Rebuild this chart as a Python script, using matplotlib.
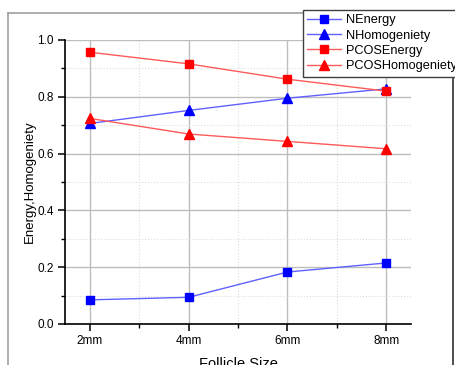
import matplotlib
matplotlib.use("Agg")
import matplotlib.pyplot as plt
from matplotlib.lines import Line2D
from matplotlib.ticker import MultipleLocator

plt.rcParams['font.family'] = ['Liberation Sans', 'DejaVu Sans']

sizes = [2, 4, 6, 8]
tick_labels = ['2mm', '4mm', '6mm', '8mm']
n_energy = [0.085, 0.094, 0.183, 0.215]
n_homog = [0.706, 0.752, 0.795, 0.828]
pcos_energy = [0.957, 0.916, 0.862, 0.820]
pcos_homog = [0.724, 0.669, 0.643, 0.617]

fig = plt.figure(figsize=(4.55, 3.65), dpi=100)
W, H = 455, 365

# outer frame
fig.add_artist(Line2D([8/W, 8/W], [0, 1-13/H], transform=fig.transFigure, color='#a0a0a0', lw=1.2))
fig.add_artist(Line2D([8/W, 453/W], [1-13/H, 1-13/H], transform=fig.transFigure, color='#a0a0a0', lw=1.2))
fig.add_artist(Line2D([453/W, 453/W], [0, 1-13/H], transform=fig.transFigure, color='#303030', lw=1.2))

ax = fig.add_axes([65/W, 1-324/H, (411-65)/W, (324-40)/H])
ax.set_xlim(1.5, 8.5)
ax.set_ylim(0, 1.0)

blue_line = '#6060ff'
red_line = '#ff5a5a'
ax.plot(sizes, n_energy, color=blue_line, lw=1, marker='s', ms=5.5, mfc='#0000ff', mec='#0000ff', label='NEnergy', zorder=5)
ax.plot(sizes, n_homog, color=blue_line, lw=1, marker='^', ms=6.5, mfc='#0000ff', mec='#0000ff', label='NHomogeniety', zorder=5)
ax.plot(sizes, pcos_energy, color=red_line, lw=1, marker='s', ms=5.5, mfc='#ff0000', mec='#ff0000', label='PCOSEnergy', zorder=5)
ax.plot(sizes, pcos_homog, color=red_line, lw=1, marker='^', ms=6.5, mfc='#ff0000', mec='#ff0000', label='PCOSHomogeniety', zorder=5)

ax.set_xticks(sizes)
ax.set_xticklabels(tick_labels)
ax.xaxis.set_minor_locator(MultipleLocator(1))
ax.yaxis.set_major_locator(MultipleLocator(0.2))
ax.yaxis.set_minor_locator(MultipleLocator(0.1))
ax.set_yticklabels([f'{v:.1f}' for v in ax.get_yticks()])

ax.grid(which='major', color='#bdbdbd', lw=1.0, ls='-')
ax.grid(which='minor', color='#dddddd', lw=0.8, ls=':')
ax.set_axisbelow(True)

for s in ['top', 'right']:
    ax.spines[s].set_visible(False)
for s in ['left', 'bottom']:
    ax.spines[s].set_linewidth(1.2)
    ax.spines[s].set_color('black')

ax.tick_params(which='major', direction='out', length=5, width=1.1, labelsize=8.5, pad=3)
ax.tick_params(which='minor', direction='out', length=3, width=1.0)

ax.set_xlabel('Follicle Size', fontsize=10.5, labelpad=7)
ax.set_ylabel('Energy,Homogeniety', fontsize=9.5, labelpad=1)

leg = fig.legend(loc='upper left', bbox_to_anchor=(303/W, 1-10/H), fontsize=9.2,
                 frameon=True, fancybox=False, edgecolor='#404040', framealpha=1,
                 handlelength=2.6, handletextpad=0.4, borderpad=0.35, labelspacing=0.25,
                 borderaxespad=0)
leg.get_frame().set_linewidth(1.0)

fig.savefig('out.png', dpi=100)
